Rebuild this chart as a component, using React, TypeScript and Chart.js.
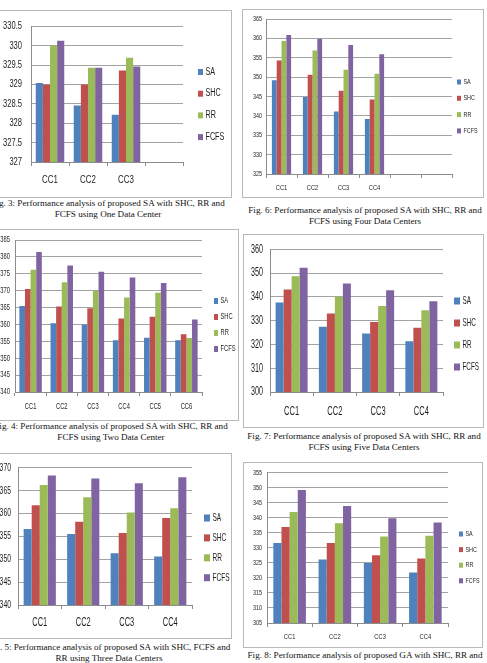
import React, { useEffect, useRef } from "react";
import { Chart, registerables } from "chart.js";

Chart.register(...registerables);

// ---- shared series ----
const SERIES = ["SA", "SHC", "RR", "FCFS"];
const SERIES_COLORS = ["#4F81BD", "#C0504D", "#9BBB59", "#8064A2"];

// ---- Fig. 3: one data center ----
const fig3Categories = ["CC1", "CC2", "CC3", ""];
const fig3SA = [329.04, 328.46, 328.22];
const fig3SHC = [329.0, 329.0, 329.36];
const fig3RR = [330.0, 329.43, 329.69];
const fig3FCFS = [330.13, 329.43, 329.46];
const fig3Ticks = [327, 330.5, 0.5];

// ---- Fig. 4: two data centers ----
const fig4Categories = ["CC1", "CC2", "CC3", "CC4", "CC5", "CC6"];
const fig4SA = [365.5, 360.4, 360.0, 355.3, 356.1, 355.3];
const fig4SHC = [370.5, 365.3, 364.8, 361.8, 362.3, 357.1];
const fig4RR = [376.2, 372.5, 369.9, 368.0, 369.4, 356.0];
const fig4FCFS = [381.5, 377.5, 375.6, 373.9, 372.3, 361.5];
const fig4Ticks = [340, 385, 5];

// ---- Fig. 5: three data centers ----
const fig5Categories = ["CC1", "CC2", "CC3", "CC4"];
const fig5SA = [356.6, 355.5, 351.3, 350.6];
const fig5SHC = [361.8, 358.2, 355.7, 359.0];
const fig5RR = [366.2, 363.5, 360.2, 361.1];
const fig5FCFS = [368.3, 367.6, 366.6, 367.9];
const fig5Ticks = [340, 370, 5];

// ---- Fig. 6: four data centers ----
const fig6Categories = ["CC1", "CC2", "CC3", "CC4", "", ""];
const fig6SA = [349.2, 344.9, 341.1, 339.2];
const fig6SHC = [354.3, 350.6, 346.5, 344.2];
const fig6RR = [359.3, 356.9, 351.9, 350.9];
const fig6FCFS = [360.9, 359.9, 358.3, 355.9];
const fig6Ticks = [325, 365, 5];

// ---- Fig. 7: five data centers ----
const fig7Categories = ["CC1", "CC2", "CC3", "CC4"];
const fig7SA = [337.6, 327.4, 324.6, 321.3];
const fig7SHC = [343.1, 333.0, 329.4, 327.0];
const fig7RR = [348.6, 340.0, 336.1, 334.3];
const fig7FCFS = [352.2, 345.6, 342.8, 338.1];
const fig7Ticks = [300, 360, 10];

// ---- Fig. 8: GA comparison ----
const fig8Categories = ["CC1", "CC2", "CC3", "CC4"];
const fig8SA = [331.6, 326.1, 324.9, 321.8];
const fig8SHC = [336.9, 331.6, 327.5, 326.4];
const fig8RR = [341.9, 338.1, 333.7, 334.0];
const fig8FCFS = [349.2, 343.9, 339.8, 338.4];
const fig8Ticks = [305, 355, 5];

const CHART_FONT = "'Liberation Sans', Arial, sans-serif";
const CAPTION_FONT = "'Liberation Serif', 'Times New Roman', serif";
const TEXT_COLOR = "#1e1e1e";
const GRID_COLOR = "#a3a3a3";
const AXIS_COLOR = "#8c8c8c";
const FRAME_COLOR = "#b8b8b8";

type Layout = {
  box: { x: number; y: number; w: number; h: number };
  plot: { l: number; t: number; r: number; b: number };
  groupWidth: number;
  condense: number;
  tickFont: number;
  catFont: number;
  catY: number;
  yGap: number;
  legend: { x: number; y: number; dy: number; font: number; boxW: number; boxH: number };
  captionX: number;
  captionY: number;
};

type PanelProps = {
  categories: string[];
  values: number[][];
  ticks: number[];
  caption: string[];
  layout: Layout;
};

// narrow, office-style lettering: every label is squeezed horizontally about its anchor
function condensedText(scale: number) {
  return {
    id: "condensedText",
    beforeInit(chart: any) {
      const ctx = chart.ctx;
      const base = ctx.fillText.bind(ctx);
      ctx.fillText = (text: string, x: number, y: number, maxWidth?: number) => {
        ctx.save();
        ctx.translate(x, y);
        ctx.scale(scale, 1);
        if (maxWidth === undefined || maxWidth === null) base(text, 0, 0);
        else base(text, 0, 0, maxWidth / scale);
        ctx.restore();
      };
    },
  };
}

// legend drawn as a vertical list beside the plot area
const sideLegend = {
  id: "sideLegend",
  afterDraw(chart: any, _args: any, opts: any) {
    const { ctx } = chart;
    ctx.save();
    ctx.font = `${opts.font}px ${CHART_FONT}`;
    ctx.textBaseline = "middle";
    ctx.textAlign = "left";
    chart.data.datasets.forEach((ds: any, i: number) => {
      const y = opts.y + i * opts.dy;
      ctx.fillStyle = ds.backgroundColor;
      ctx.fillRect(opts.x, y - opts.boxH / 2, opts.boxW, opts.boxH);
      ctx.fillStyle = TEXT_COLOR;
      ctx.fillText(ds.label, opts.x + opts.boxW + 2.5, y);
    });
    ctx.restore();
  },
};

function Panel({ categories, values, ticks, caption, layout }: PanelProps) {
  const ref = useRef<HTMLCanvasElement | null>(null);
  const { box, plot, legend } = layout;
  const cx = box.x + 1;
  const cy = box.y + 1;
  const cw = box.w - 2;
  const ch = box.h - 2;

  useEffect(() => {
    if (!ref.current) return;
    const tickLen = 4;
    const chart = new Chart(ref.current, {
      type: "bar",
      data: {
        labels: categories,
        datasets: SERIES.map((name, i) => ({
          label: name,
          data: values[i],
          backgroundColor: SERIES_COLORS[i],
          borderWidth: 0,
          categoryPercentage: layout.groupWidth,
          barPercentage: 1,
        })),
      },
      options: {
        responsive: false,
        animation: false,
        events: [],
        layout: {
          padding: { left: 0, top: plot.t - cy, right: cx + cw - plot.r, bottom: 0 },
        },
        plugins: {
          legend: { display: false },
          tooltip: { enabled: false },
          sideLegend: {
            x: legend.x - cx,
            y: legend.y - cy,
            dy: legend.dy,
            font: legend.font,
            boxW: legend.boxW,
            boxH: legend.boxH,
          },
        } as any,
        scales: {
          x: {
            grid: {
              offset: true,
              drawOnChartArea: false,
              drawTicks: true,
              tickLength: tickLen,
              color: AXIS_COLOR,
            },
            border: { color: AXIS_COLOR, width: 1 },
            ticks: {
              font: { family: CHART_FONT, size: layout.catFont },
              color: TEXT_COLOR,
              padding: layout.catY - plot.b - tickLen - 0.6 * layout.catFont,
              maxRotation: 0,
              autoSkip: false,
            },
            afterFit: (s: any) => {
              s.height = cy + ch - plot.b;
            },
          },
          y: {
            min: ticks[0],
            max: ticks[1],
            grid: { color: GRID_COLOR, drawTicks: false, lineWidth: 1 },
            border: { color: AXIS_COLOR, width: 1 },
            ticks: {
              stepSize: ticks[2],
              font: { family: CHART_FONT, size: layout.tickFont },
              color: TEXT_COLOR,
              padding: layout.yGap,
              callback: (v: any) => String(v),
            },
            afterFit: (s: any) => {
              s.width = plot.l - cx;
            },
          },
        },
      },
      plugins: [condensedText(layout.condense), sideLegend],
    } as any);
    return () => chart.destroy();
  }, []);

  return (
    <>
      <div
        style={{
          position: "absolute",
          left: box.x,
          top: box.y,
          width: cw,
          height: ch,
          border: `1px solid ${FRAME_COLOR}`,
          background: "#fff",
        }}
      >
        <canvas ref={ref} width={cw} height={ch} style={{ display: "block", width: cw, height: ch }} />
      </div>
      <div
        style={{
          position: "absolute",
          left: layout.captionX - 170,
          width: 340,
          top: layout.captionY - 5.5,
          textAlign: "center",
          fontFamily: CAPTION_FONT,
          fontSize: "9.1px",
          lineHeight: "11px",
          color: "#111",
          whiteSpace: "nowrap",
        }}
      >
        {caption.map((line, i) => (
          <div key={i}>{line}</div>
        ))}
      </div>
    </>
  );
}

export default function App() {
  return (
    <div
      style={{
        position: "absolute",
        left: 0,
        top: 0,
        width: 487,
        height: 663,
        overflow: "hidden",
        background: "#fff",
      }}
    >
      <Panel
        categories={fig3Categories}
        values={[fig3SA, fig3SHC, fig3RR, fig3FCFS]}
        ticks={fig3Ticks}
        caption={["Fig. 3: Performance analysis of proposed SA with SHC, RR and", "FCFS using One Data Center"]}
        layout={{
          box: { x: -14, y: 10, w: 246, h: 188 },
          plot: { l: 31, t: 24, r: 183, b: 162 },
          groupWidth: 0.75,
          condense: 0.72,
          tickFont: 10.5,
          catFont: 11,
          catY: 180,
          yGap: 9,
          legend: { x: 198, y: 72, dy: 21.7, font: 10, boxW: 5, boxH: 6 },
          captionX: 108,
          captionY: 203,
        }}
      />
      <Panel
        categories={fig6Categories}
        values={[fig6SA, fig6SHC, fig6RR, fig6FCFS]}
        ticks={fig6Ticks}
        caption={["Fig. 6: Performance analysis of proposed SA with SHC, RR and", "FCFS using Four Data Centers"]}
        layout={{
          box: { x: 242, y: 9, w: 242, h: 189 },
          plot: { l: 266, t: 19, r: 452, b: 174 },
          groupWidth: 0.62,
          condense: 0.72,
          tickFont: 7.5,
          catFont: 8,
          catY: 188,
          yGap: 4,
          legend: { x: 457, y: 82, dy: 16.3, font: 7.5, boxW: 4, boxH: 5 },
          captionX: 365,
          captionY: 210,
        }}
      />
      <Panel
        categories={fig4Categories}
        values={[fig4SA, fig4SHC, fig4RR, fig4FCFS]}
        ticks={fig4Ticks}
        caption={["Fig. 4: Performance analysis of proposed SA with SHC, RR and", "FCFS using Two Data Center"]}
        layout={{
          box: { x: -10, y: 229, w: 249, h: 192 },
          plot: { l: 15, t: 239, r: 202, b: 392 },
          groupWidth: 0.72,
          condense: 0.68,
          tickFont: 8.5,
          catFont: 8.5,
          catY: 407,
          yGap: 5,
          legend: { x: 214, y: 301, dy: 16, font: 8.5, boxW: 4, boxH: 6 },
          captionX: 111,
          captionY: 426,
        }}
      />
      <Panel
        categories={fig7Categories}
        values={[fig7SA, fig7SHC, fig7RR, fig7FCFS]}
        ticks={fig7Ticks}
        caption={["Fig. 7: Performance analysis of proposed SA with SHC, RR and", "FCFS using Five Data Centers"]}
        layout={{
          box: { x: 243, y: 234, w: 241, h: 194 },
          plot: { l: 270, t: 249, r: 443, b: 392 },
          groupWidth: 0.74,
          condense: 0.6,
          tickFont: 12,
          catFont: 12.5,
          catY: 412,
          yGap: 7,
          legend: { x: 454, y: 301, dy: 22, font: 10.5, boxW: 6, boxH: 7 },
          captionX: 364,
          captionY: 436,
        }}
      />
      <Panel
        categories={fig5Categories}
        values={[fig5SA, fig5SHC, fig5RR, fig5FCFS]}
        ticks={fig5Ticks}
        caption={["Fig. 5: Performance analysis of proposed SA with SHC, FCFS and", "RR using Three Data Centers"]}
        layout={{
          box: { x: -14, y: 453, w: 246, h: 186 },
          plot: { l: 18, t: 465, r: 192, b: 605 },
          groupWidth: 0.74,
          condense: 0.62,
          tickFont: 11,
          catFont: 12,
          catY: 623,
          yGap: 7,
          legend: { x: 204, y: 518, dy: 19.9, font: 10.5, boxW: 6, boxH: 7 },
          captionX: 109,
          captionY: 647,
        }}
      />
      <Panel
        categories={fig8Categories}
        values={[fig8SA, fig8SHC, fig8RR, fig8FCFS]}
        ticks={fig8Ticks}
        caption={["Fig. 8: Performance analysis of proposed GA with SHC, RR and"]}
        layout={{
          box: { x: 243, y: 462, w: 240, h: 186 },
          plot: { l: 267, t: 472, r: 448, b: 623 },
          groupWidth: 0.72,
          condense: 0.72,
          tickFont: 7.5,
          catFont: 8,
          catY: 637,
          yGap: 5,
          legend: { x: 459, y: 534, dy: 15.6, font: 7.5, boxW: 4, boxH: 5 },
          captionX: 365,
          captionY: 655,
        }}
      />
    </div>
  );
}
